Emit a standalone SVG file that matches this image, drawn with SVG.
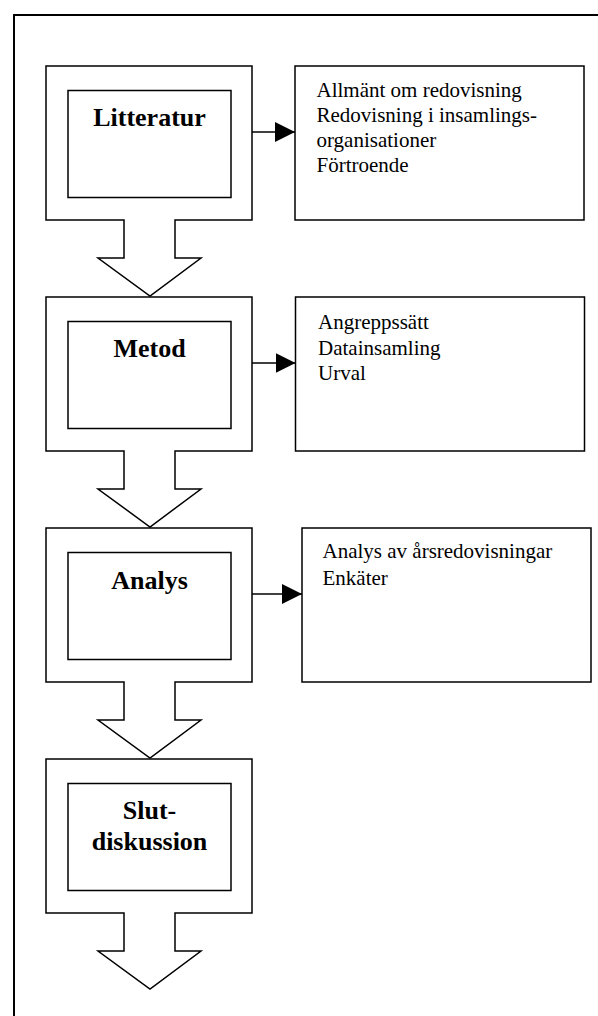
<svg xmlns="http://www.w3.org/2000/svg" width="598" height="1016" viewBox="0 0 598 1016">
  <defs>
    <style>
      .frame { fill: none; stroke: #000; stroke-width: 2; }
      .shape { fill: #fff; stroke: #000; stroke-width: 1.5; stroke-linejoin: miter; }
      .box { fill: #fff; stroke: #000; stroke-width: 1.5; }
      .title { font-family: "Liberation Serif", "Times New Roman", serif; font-weight: bold; font-size: 26px; text-anchor: middle; fill: #000; }
      .item { font-family: "Liberation Serif", "Times New Roman", serif; font-size: 21px; fill: #000; }
      .conn { stroke: #000; stroke-width: 1.5; fill: none; }
    </style>
    <marker id="head" markerUnits="userSpaceOnUse" markerWidth="20" markerHeight="20" refX="20" refY="10" orient="auto" viewBox="0 0 20 20">
      <path d="M0,0 L20,10 L0,20 Z" fill="#000"/>
    </marker>
  </defs>
  <rect width="598" height="1016" fill="#fff"/>
  <path class="frame" d="M14,1016 V15 H598"/>

  <g id="node-litteratur">
    <path class="shape" d="M46,66 H252 V220 H175 V258 H201 L150,296 L98,258 H124 V220 H46 Z"/>
    <rect class="box" x="68" y="90.5" width="163" height="107"/>
    <text class="title" x="149.5" y="126">Litteratur</text>
  </g>
  <g id="node-metod">
    <path class="shape" d="M46,297 H252 V451 H175 V489 H201 L150,527 L98,489 H124 V451 H46 Z"/>
    <rect class="box" x="68" y="321.5" width="163" height="107"/>
    <text class="title" x="149.5" y="357">Metod</text>
  </g>
  <g id="node-analys">
    <path class="shape" d="M46,528 H252 V682 H175 V720 H201 L150,758 L98,720 H124 V682 H46 Z"/>
    <rect class="box" x="68" y="552.5" width="163" height="107"/>
    <text class="title" x="149.5" y="589">Analys</text>
  </g>
  <g id="node-slutdiskussion">
    <path class="shape" d="M46,759 H252 V913 H175 V951 H201 L150,989 L98,951 H124 V913 H46 Z"/>
    <rect class="box" x="68" y="783.5" width="163" height="107"/>
    <text class="title" x="149.5" y="819">Slut-</text>
    <text class="title" x="149.5" y="850">diskussion</text>
  </g>

  <g id="box-litteratur">
    <rect class="box" x="295" y="66" width="289" height="154"/>
    <text class="item" x="316.5" y="96.5">Allmänt om redovisning</text>
    <text class="item" x="316.5" y="121.5">Redovisning i insamlings-</text>
    <text class="item" x="316.5" y="147">organisationer</text>
    <text class="item" x="316.5" y="172">Förtroende</text>
  </g>
  <g id="box-metod">
    <rect class="box" x="295.5" y="297" width="289" height="154"/>
    <text class="item" x="318" y="329">Angreppssätt</text>
    <text class="item" x="318" y="355">Datainsamling</text>
    <text class="item" x="318" y="380">Urval</text>
  </g>
  <g id="box-analys">
    <rect class="box" x="302" y="528" width="289" height="154"/>
    <text class="item" x="322.5" y="558">Analys av årsredovisningar</text>
    <text class="item" x="322.5" y="584.5">Enkäter</text>
  </g>

  <g id="connectors">
    <line class="conn" x1="252" y1="132" x2="295" y2="132" marker-end="url(#head)"/>
    <line class="conn" x1="252" y1="363" x2="295.5" y2="363" marker-end="url(#head)"/>
    <line class="conn" x1="252" y1="594" x2="302" y2="594" marker-end="url(#head)"/>
  </g>
</svg>
